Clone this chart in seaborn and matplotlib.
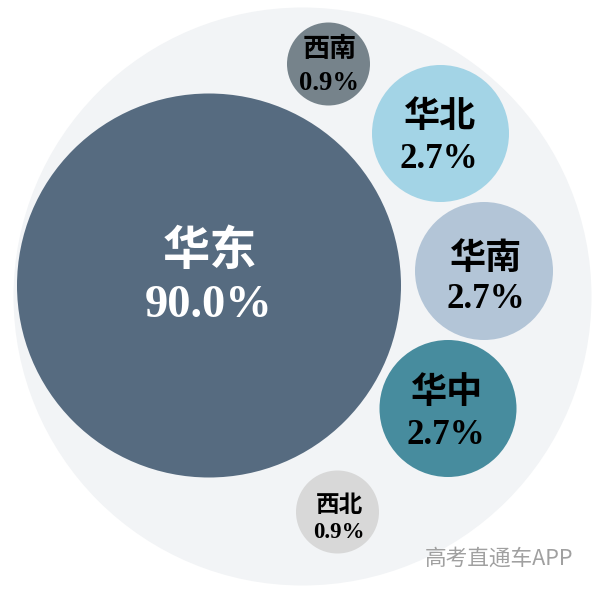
import matplotlib
matplotlib.use('Agg')
import matplotlib.pyplot as plt
import pandas as pd
import seaborn as sns

# Data
regions = ['华东', '西南', '华北', '华南', '华中', '西北']
shares = [90.0, 0.9, 2.7, 2.7, 2.7, 0.9]

# Layout of the packed circles, in image pixels (centre x, centre y, radius)
centre_x = {'华东': 209, '西南': 328.5, '华北': 440.5, '华南': 484, '华中': 448, '西北': 337.5}
centre_y = {'华东': 285.5, '西南': 64, '华北': 133.5, '华南': 271, '华中': 408.5, '西北': 512}
radius = {'华东': 192, '西南': 41.5, '华北': 68.5, '华南': 69, '华中': 68.5, '西北': 41.5}
colors = {'华东': '#566b80', '西南': '#76838b', '华北': '#a3d4e6',
          '华南': '#b3c5d7', '华中': '#478c9e', '西北': '#d8d8d8'}

# name pos, pct pos, name size, pct size, text color
label_style = {
    '华东': ((210, 251), (209, 306), 34, 33.5, 'white'),
    '西南': ((330, 49), (329, 83), 19.5, 19.2, 'black'),
    '华北': ((440, 116), (439, 159), 26, 25.2, 'black'),
    '华南': ((486, 258), (486, 299), 26, 25.2, 'black'),
    '华中': ((447, 392), (446, 435), 26, 25.2, 'black'),
    '西北': ((339, 505), (339, 533), 17, 16.5, 'black'),
}

CJK = ['Noto Sans CJK SC', 'DejaVu Sans']
PX_TO_PT = 72 / 100


def marker_area(r):
    return (2 * r * PX_TO_PT) ** 2


sns.set_style('white')
plt.rcParams['font.family'] = CJK

fig = plt.figure(figsize=(6.01, 5.99), dpi=100)
ax = fig.add_axes([0, 0, 1, 1])

# Pale circle that holds everything
ax.add_patch(plt.Circle((302.5, 296.5), 289, color='#f2f4f6', lw=0, zorder=0))

df = pd.DataFrame({'region': regions, 'share': shares})
df['x'] = df['region'].map(centre_x)
df['y'] = df['region'].map(centre_y)

sns.scatterplot(
    data=df, x='x', y='y', hue='region', size='region', ax=ax,
    palette=colors, sizes={k: marker_area(v) for k, v in radius.items()},
    linewidth=0, legend=False, zorder=2,
)

for region, share in zip(regions, shares):
    name_pos, pct_pos, name_size, pct_size, color = label_style[region]
    ax.text(*name_pos, region, ha='center', va='center', color=color,
            fontsize=name_size, fontweight='bold', family=CJK, zorder=3)
    ax.text(*pct_pos, f'{share:.1f}%', ha='center', va='center', color=color,
            fontsize=pct_size, fontweight='bold', family='Liberation Serif', zorder=3)

# Watermark
ax.text(498.5, 559, '高考直通车APP', ha='center', va='center', color='#a0a0a0',
        fontsize=15.6, family=CJK, zorder=3)

ax.set_xlim(0, 601)
ax.set_ylim(599, 0)
ax.axis('off')

fig.savefig('out.png', dpi=100)
